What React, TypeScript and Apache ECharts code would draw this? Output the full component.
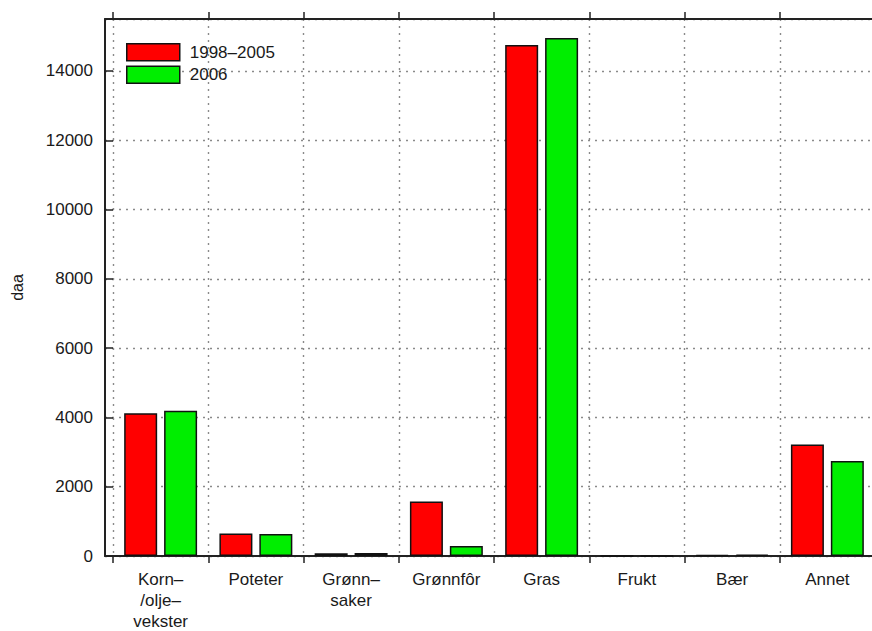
import React, { useEffect, useRef } from "react";
import * as echarts from "echarts";

const categories = ["Korn–\n/olje–\nvekster", "Poteter", "Grønn–\nsaker", "Grønnfôr", "Gras", "Frukt", "Bær", "Annet"];
const seriesNames = ["1998–2005", "2006"];
const values1998 = [4120, 650, 80, 1570, 14750, 0, 30, 3220];
const values2006 = [4190, 635, 90, 290, 14950, 0, 40, 2740];
const yTicks = [0, 2000, 4000, 6000, 8000, 10000, 12000, 14000];
const boundaries = [-0.5, 0.5, 1.5, 2.5, 3.5, 4.5, 5.5, 6.5, 7.5];
const centers = categories.map((_, i) => i);

const gridLine = { show: true, lineStyle: { color: "#8a8a8a", type: [2, 5], width: 1.4 } };
const textColor = "#1a1a1a";
const font = "Liberation Sans, Arial, sans-serif";

export default function App() {
  const ref = useRef<HTMLDivElement>(null);
  useEffect(() => {
    if (!ref.current) return;
    const chart = echarts.init(ref.current, undefined, { renderer: "svg" });
    const xBase = {
      type: "value",
      min: -0.584,
      max: 7.5,
      splitLine: { show: false },
      axisLine: { show: true, onZero: false, lineStyle: { color: "#222", width: 2 } },
      axisTick: { show: true, inside: false, length: 7, customValues: boundaries, lineStyle: { color: "#222", width: 1.5 } },
    };
    chart.setOption({
      animation: false,
      textStyle: { fontFamily: font },
      legend: {
        orient: "vertical",
        left: 126,
        top: 43,
        padding: 0,
        itemWidth: 53,
        itemHeight: 17,
        itemGap: 4,
        icon: "rect",
        data: seriesNames,
        textStyle: { fontSize: 17, color: textColor, fontFamily: font, padding: [0, 0, 0, 5] },
        itemStyle: { borderColor: "#111", borderWidth: 1.5 },
      },
      grid: { left: 105, top: 19, right: -3, bottom: 75, outerBoundsMode: "none", containLabel: false },
      xAxis: [
        {
          ...xBase,
          position: "bottom",
          splitLine: { ...gridLine },
          axisLabel: {
            show: true,
            customValues: centers,
            formatter: (v: number) => categories[Math.round(v)] ?? "",
            color: textColor,
            fontSize: 17,
            lineHeight: 21,
            margin: 13,
            fontFamily: font,
          },
        },
        {
          ...xBase,
          position: "top",
          axisLabel: { show: false },
        },
      ],
      yAxis: {
        type: "value",
        min: 0,
        max: 15500,
        interval: 2000,
        name: "daa",
        nameLocation: "middle",
        nameGap: 80,
        nameRotate: 90,
        nameTextStyle: { fontSize: 16, color: textColor, fontFamily: font },
        axisLine: { show: true, onZero: false, lineStyle: { color: "#222", width: 2 } },
        axisTick: { show: true, inside: true, length: 8, lineStyle: { color: "#222", width: 1.5 } },
        axisLabel: {
          color: textColor,
          fontSize: 17,
          margin: 12,
          fontFamily: font,
          formatter: (v: number) => (yTicks.includes(v) ? String(v) : ""),
        },
        splitLine: { ...gridLine },
      },
      series: [
        {
          name: seriesNames[0],
          type: "bar",
          xAxisIndex: 0,
          barWidth: 33,
          barGap: "21%",
          data: values1998.map((v, i) => [centers[i], v]),
          itemStyle: { color: "#ff0000", borderColor: "#111", borderWidth: 1.5 },
        },
        {
          name: seriesNames[1],
          type: "bar",
          xAxisIndex: 0,
          barWidth: 33,
          barGap: "21%",
          data: values2006.map((v, i) => [centers[i], v]),
          itemStyle: { color: "#00ee00", borderColor: "#111", borderWidth: 1.5 },
        },
      ],
    });
    return () => chart.dispose();
  }, []);
  return <div ref={ref} style={{ position: "fixed", left: 0, top: 0, width: 872, height: 631, background: "#fff" }} />;
}
